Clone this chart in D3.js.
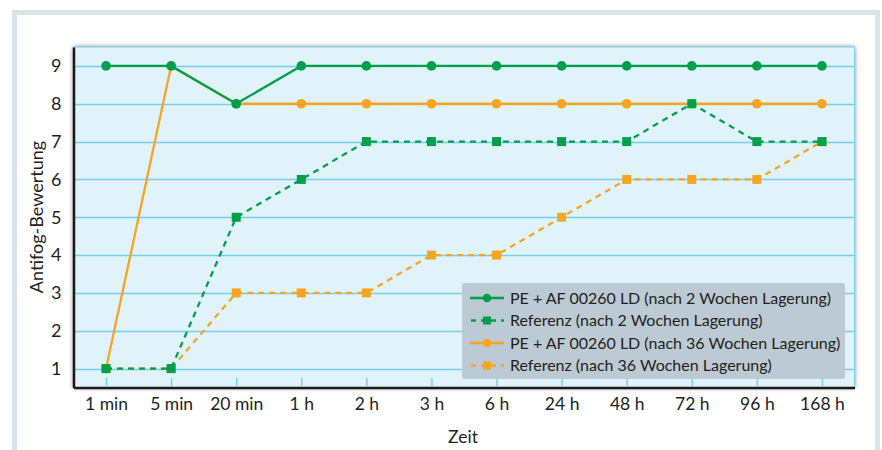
<!DOCTYPE html>
<html><head><meta charset="utf-8">
<script src="https://cdn.jsdelivr.net/npm/d3@7"></script>
<style>body{margin:0;background:#fff}svg{display:block}text{font-family:"Lato","Open Sans",sans-serif;fill:#231f20}</style>
</head><body><svg id="c" width="882" height="450"></svg>
<script>
const categories = ["1 min","5 min","20 min","1 h","2 h","3 h","6 h","24 h","48 h","72 h","96 h","168 h"];
const pe2 = [9,9,8,9,9,9,9,9,9,9,9,9];
const ref2 = [1,1,5,6,7,7,7,7,7,8,7,7];
const pe36 = [1,9,8,8,8,8,8,8,8,8,8,8];
const ref36 = [1,1,3,3,3,4,4,5,6,6,6,7];
const yTicks = [1,2,3,4,5,6,7,8,9];
const seriesNames = ["PE + AF 00260 LD (nach 2 Wochen Lagerung)","Referenz (nach 2 Wochen Lagerung)","PE + AF 00260 LD (nach 36 Wochen Lagerung)","Referenz (nach 36 Wochen Lagerung)"];

const GREEN="#00a04b", ORANGE="#f7a421";
const series = [
  {name:seriesNames[0], values:pe2, color:GREEN, dash:null, shape:"circle"},
  {name:seriesNames[1], values:ref2, color:GREEN, dash:"6,5", shape:"square"},
  {name:seriesNames[2], values:pe36, color:ORANGE, dash:null, shape:"circle"},
  {name:seriesNames[3], values:ref36, color:ORANGE, dash:"6,5", shape:"square"}
];
const drawOrder = [3,2,1,0];

const svg = d3.select("#c");
const L=73.5, R=854.5, T=47, B=387.5;

// outer frame
svg.append("rect").attr("x",14.5).attr("y",12.5).attr("width",863).attr("height",460)
  .attr("fill","#fff").attr("stroke","#dbe3ea").attr("stroke-width",5);

const defs = svg.append("defs");
const f = defs.append("filter").attr("id","sh").attr("x","-5%").attr("y","-10%").attr("width","110%").attr("height","120%");
f.append("feGaussianBlur").attr("in","SourceAlpha").attr("stdDeviation",2.5).attr("result","b");
f.append("feComponentTransfer").attr("in","b").attr("result","o2").append("feFuncA").attr("type","linear").attr("slope",0.55);
const m = f.append("feMerge"); m.append("feMergeNode").attr("in","o2"); m.append("feMergeNode").attr("in","SourceGraphic");

const x = d3.scalePoint().domain(categories).range([L,R]).padding(0.5);
const y = d3.scaleLinear().domain([0.5,9.5]).range([B,T]);

svg.append("rect").attr("x",L).attr("y",T).attr("width",R-L).attr("height",B-T)
  .attr("fill","#e1f3fa").attr("filter","url(#sh)");
svg.append("rect").attr("x",L).attr("y",T).attr("width",R-L).attr("height",B-T)
  .attr("fill","none").attr("stroke","#7fd2ef").attr("stroke-width",1);

// gridlines
svg.append("g").selectAll("line").data(yTicks).join("line")
  .attr("x1",L).attr("x2",R).attr("y1",d=>Math.round(y(d))+0.5).attr("y2",d=>Math.round(y(d))+0.5)
  .attr("stroke","#74cfee").attr("stroke-width",1.3);

// x axis
const xa = svg.append("g").attr("transform",`translate(0,${B})`)
  .call(d3.axisBottom(x).tickSizeInner(-8).tickSizeOuter(0).tickPadding(20));
xa.select(".domain").attr("stroke","#1a1a1a").attr("stroke-width",2.5);
xa.selectAll(".tick line").attr("stroke","#74cfee").attr("stroke-width",1.5).attr("transform","translate(0,-1.5)");
xa.selectAll(".tick text").attr("font-size",17.5).attr("fill","#231f20").attr("dy","0.15em");

// y axis
const ya = svg.append("g").attr("transform",`translate(${L},0)`)
  .call(d3.axisLeft(y).tickValues(yTicks).tickSize(0).tickPadding(12).tickFormat(d3.format("d")));
ya.select(".domain").attr("stroke","#1a1a1a").attr("stroke-width",2.5);
ya.selectAll(".tick text").attr("font-size",18).attr("fill","#231f20");
xa.raise();

// lines
const line = d3.line().x((d,i)=>x(categories[i])).y(d=>y(d));
drawOrder.forEach(k=>{
  const s = series[k];
  svg.append("path").datum(s.values).attr("d",line).attr("fill","none")
    .attr("stroke",s.color).attr("stroke-width",2.3).attr("stroke-dasharray",s.dash);
  const g = svg.append("g");
  if(s.shape==="circle"){
    g.selectAll("circle").data(s.values).join("circle")
      .attr("cx",(d,i)=>x(categories[i])).attr("cy",d=>y(d)).attr("r",4.8).attr("fill",s.color);
  } else {
    g.selectAll("rect").data(s.values).join("rect")
      .attr("x",(d,i)=>x(categories[i])-4.5).attr("y",d=>y(d)-4.5).attr("width",9).attr("height",9).attr("fill",s.color);
  }
});

// legend
const lg = svg.append("g");
lg.append("rect").attr("x",462).attr("y",283).attr("width",383).attr("height",96).attr("rx",3)
  .attr("fill","#bccad3");
const rowY = [298,320.5,343,365.5];
series.forEach((s,i)=>{
  const gy = rowY[i];
  lg.append("line").attr("x1",470).attr("x2",504).attr("y1",gy).attr("y2",gy)
    .attr("stroke",s.color).attr("stroke-width",2.3).attr("stroke-dasharray",s.dash?"5,5":null)
    .attr("stroke-dashoffset",s.dash?-1:0);
  if(s.shape==="circle") lg.append("circle").attr("cx",487).attr("cy",gy).attr("r",4.3).attr("fill",s.color);
  else lg.append("rect").attr("x",483).attr("y",gy-4).attr("width",8).attr("height",8).attr("fill",s.color);
  lg.append("text").attr("x",510).attr("y",gy).attr("dy","0.35em").attr("font-size",16).attr("fill","#333").text(s.name);
});

// axis titles
svg.append("text").attr("x",463).attr("y",443).attr("text-anchor","middle").attr("font-size",17.5).text("Zeit");
svg.append("text").attr("transform","translate(43,217) rotate(-90)").attr("text-anchor","middle").attr("font-size",18).text("Antifog-Bewertung");
</script></body></html>
